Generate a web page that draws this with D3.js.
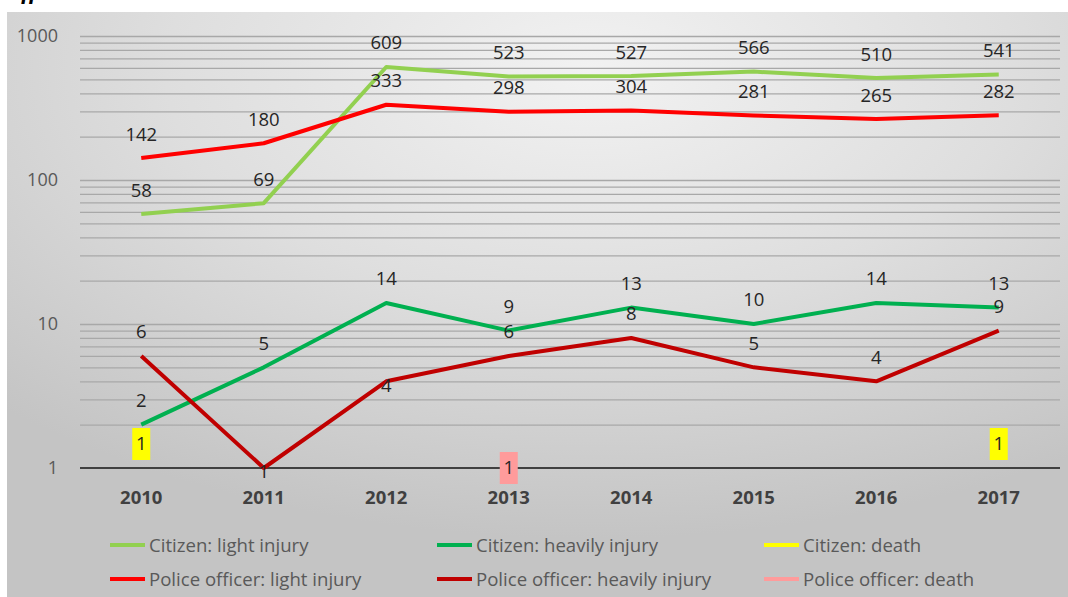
<!DOCTYPE html>
<html>
<head>
<meta charset="utf-8">
<script src="https://cdn.jsdelivr.net/npm/d3@7"></script>
<style>
  html, body { margin: 0; padding: 0; background: #fff; }
  svg { display: block; }
  text { font-family: "Open Sans", "Noto Sans", sans-serif; }
</style>
</head>
<body>
<svg id="chart"></svg>
<script>
// data
const years = ["2010", "2011", "2012", "2013", "2014", "2015", "2016", "2017"];
const citizenLight = [58, 69, 609, 523, 527, 566, 510, 541];
const policeLight = [142, 180, 333, 298, 304, 281, 265, 282];
const citizenHeavy = [2, 5, 14, 9, 13, 10, 14, 13];
const policeHeavy = [6, 1, 4, 6, 8, 5, 4, 9];
const citizenDeath = [1, null, null, null, null, null, null, 1];
const policeDeath = [null, null, null, 1, null, null, null, null];
const yTicks = [1, 10, 100, 1000];
const seriesNames = [
  "Citizen: light injury", "Citizen: heavily injury", "Citizen: death",
  "Police officer: light injury", "Police officer: heavily injury", "Police officer: death"
];

const width = 1068;
const height = 597;
const margin = { left: 80, right: 8, top: 36, bottom: 129 };

const series = [
  { name: seriesNames[0], values: citizenLight, color: "#92d050" },
  { name: seriesNames[1], values: citizenHeavy, color: "#00b050" },
  { name: seriesNames[2], values: citizenDeath, color: "#ffff00", boxed: true },
  { name: seriesNames[3], values: policeLight, color: "#ff0000" },
  { name: seriesNames[4], values: policeHeavy, color: "#c00000" },
  { name: seriesNames[5], values: policeDeath, color: "#ff9b9b", boxed: true }
];

const svg = d3.select('svg#chart').attr('width', width).attr('height', height);

// background panel with soft radial shading
const defs = svg.append('defs');
const grad = defs.append('radialGradient').attr('id', 'bg')
  .attr('cx', '55%').attr('cy', '10%').attr('r', '80%');
grad.append('stop').attr('offset', '0%').attr('stop-color', '#f2f2f2');
grad.append('stop').attr('offset', '50%').attr('stop-color', '#dedede');
grad.append('stop').attr('offset', '100%').attr('stop-color', '#c4c4c4');

// title line sits above the panel, only its lower edge shows
svg.append('text')
  .attr('x', 4).attr('y', -1)
  .style('font-family', '"Liberation Serif", serif')
  .style('font-style', 'italic')
  .style('font-weight', 'bold')
  .style('font-size', '24px')
  .attr('fill', '#000')
  .text('Officers and citizens');

svg.append('rect')
  .attr('x', 7).attr('y', 12)
  .attr('width', width - 7).attr('height', height - 12)
  .attr('fill', 'url(#bg)');

const plotRight = width - margin.right;
const plotBottom = height - margin.bottom;

var xScale = d3.scaleBand()
  .domain(years)
  .range([margin.left, plotRight]);
const xc = d => xScale(d) + xScale.bandwidth() / 2;

var yScale = d3.scaleLog()
  .domain([1, 1000])
  .range([plotBottom, margin.top]);

// minor + major gridlines
var gridValues = [];
[1, 10, 100].forEach(dec => d3.range(1, 10).forEach(k => gridValues.push(k * dec)));
gridValues.push(1000);

var grid = svg.append('g')
  .attr('transform', 'translate(' + margin.left + ',0)')
  .call(d3.axisLeft(yScale).tickValues(gridValues.filter(v => v > 1))
    .tickSize(-(plotRight - margin.left)).tickFormat(''));
grid.select('.domain').remove();
grid.selectAll('line').attr('stroke', '#a8a8a8').attr('stroke-width', 1.3);

// y axis labels
var yAxis = svg.append('g')
  .attr('transform', 'translate(' + (margin.left - 22) + ',0)')
  .call(d3.axisLeft(yScale).tickValues(yTicks).tickSize(0).tickPadding(0).tickFormat(d3.format('d')));
yAxis.select('.domain').remove();
yAxis.selectAll('text')
  .style('font-size', '18px')
  .style('font-family', '"Open Sans", sans-serif')
  .attr('fill', '#595959');

// base line at 1
svg.append('line')
  .attr('x1', margin.left).attr('x2', plotRight)
  .attr('y1', yScale(1)).attr('y2', yScale(1))
  .attr('stroke', '#404040').attr('stroke-width', 2.2);

// x axis labels
var xAxis = svg.append('g')
  .attr('transform', 'translate(0,' + plotBottom + ')')
  .call(d3.axisBottom(xScale).tickSize(0).tickPadding(23));
xAxis.select('.domain').remove();
xAxis.selectAll('text')
  .style('font-size', '18.5px')
  .style('font-weight', 'bold')
  .style('font-family', '"Open Sans", sans-serif')
  .attr('fill', '#404040');

// lines
var line = d3.line()
  .defined(d => d.v != null)
  .x(d => xc(d.year))
  .y(d => yScale(d.v));

series.forEach(s => {
  var pts = years.map((y, i) => ({ year: y, v: s.values[i] }));
  svg.append('path')
    .datum(pts)
    .attr('fill', 'none')
    .attr('stroke', s.color)
    .attr('stroke-width', 4)
    .attr('stroke-linejoin', 'round')
    .attr('d', line);
});

// data labels (a few sit at the point instead of above it)
const labelShift = { "4-2011": 4, "4-2012": 4, "5-2013": 0 };
const labels = svg.append('g');
series.forEach((s, si) => {
  years.forEach((y, i) => {
    var v = s.values[i];
    if (v == null) return;
    var key = si + '-' + y;
    var cy = yScale(v) + (key in labelShift ? labelShift[key] : -24);
    if (s.boxed) {
      labels.append('rect')
        .attr('x', xc(y) - 9).attr('y', cy - 16)
        .attr('width', 18).attr('height', 32)
        .attr('fill', s.color);
    }
    labels.append('text')
      .attr('x', xc(y)).attr('y', cy)
      .attr('dy', '0.35em')
      .attr('text-anchor', 'middle')
      .style('font-size', '18.5px')
      .attr('fill', '#262626')
      .text(v);
  });
});

// legend: 3 columns x 2 rows
const legendX = [110, 437, 764];
const legendY = [545, 579];
var legend = svg.append('g');
series.forEach((s, i) => {
  var gx = legendX[i % 3], gy = legendY[Math.floor(i / 3)];
  legend.append('line')
    .attr('x1', gx).attr('x2', gx + 35)
    .attr('y1', gy).attr('y2', gy)
    .attr('stroke', s.color).attr('stroke-width', 4);
  legend.append('text')
    .attr('x', gx + 39).attr('y', gy)
    .attr('dy', '0.35em')
    .style('font-size', '18.6px')
    .attr('fill', '#595959')
    .text(s.name);
});
</script>
</body>
</html>
